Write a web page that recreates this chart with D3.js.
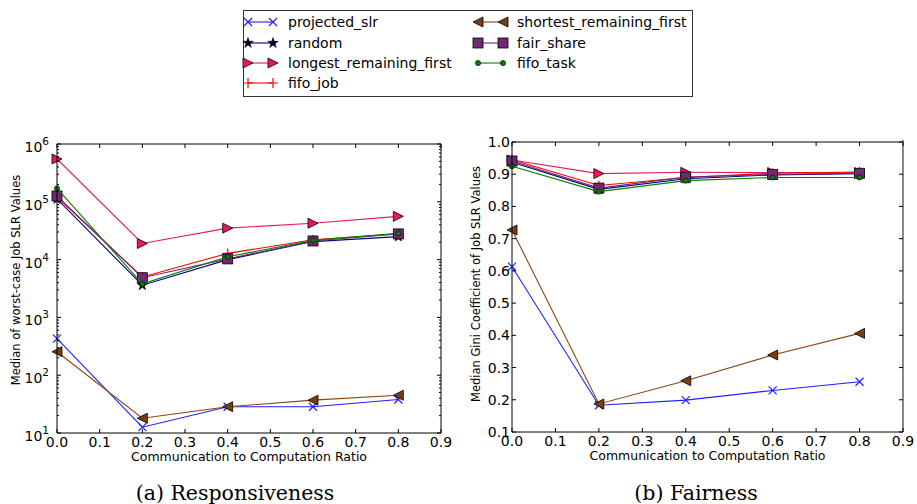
<!DOCTYPE html>
<html>
<head>
<meta charset="utf-8">
<script src="https://cdn.jsdelivr.net/npm/d3@7"></script>
<style>
  body { margin: 0; background: #fff; }
  svg { display: block; font-family: "DejaVu Sans", sans-serif; }
</style>
</head>
<body>
<svg id="chart" width="917" height="504"></svg>
<script>
// x positions shared by both panels
const ratios = [0, 0.2, 0.4, 0.6, 0.8];
const xTicks = [0, 0.1, 0.2, 0.3, 0.4, 0.5, 0.6, 0.7, 0.8, 0.9];
const gTicks = [0.1, 0.2, 0.3, 0.4, 0.5, 0.6, 0.7, 0.8, 0.9, 1.0];
const logTicks = [1, 2, 3, 4, 5, 6];

const seriesNames = ["projected_slr", "random", "longest_remaining_first", "fifo_job",
    "shortest_remaining_first", "fair_share", "fifo_task"];

// (a) Responsiveness: median worst-case job SLR
const respProjected = [430, 12.6, 28.5, 28.5, 38];
const respRandom = [112000, 3600, 10000, 20500, 25000];
const respLongest = [550000, 19000, 35000, 42500, 56000];
const respFifoJob = [120000, 5000, 12800, 22000, 28000];
const respShortest = [255, 18, 28.5, 37, 45];
const respFairShare = [126000, 4860, 10300, 21000, 27800];
const respFifoTask = [170000, 3800, 11200, 21500, 28500];

// (b) Fairness: median Gini coefficient
const fairProjected = [0.613, 0.183, 0.199, 0.229, 0.256];
const fairRandom = [0.937, 0.853, 0.886, 0.898, 0.902];
const fairLongest = [0.944, 0.902, 0.906, 0.905, 0.905];
const fairFifoJob = [0.945, 0.865, 0.89, 0.903, 0.907];
const fairShortest = [0.727, 0.187, 0.259, 0.339, 0.406];
const fairFairShare = [0.941, 0.857, 0.891, 0.899, 0.903];
const fairFifoTask = [0.925, 0.846, 0.88, 0.89, 0.89];

const respValues = [respProjected, respRandom, respLongest, respFifoJob, respShortest, respFairShare, respFifoTask];
const fairValues = [fairProjected, fairRandom, fairLongest, fairFifoJob, fairShortest, fairFairShare, fairFifoTask];

// style per series: line colour, marker kind, marker fill
const styles = {
    projected_slr: { color: "#1f1fff", marker: "x", fill: "none" },
    random: { color: "#000080", marker: "star", fill: "#000033" },
    longest_remaining_first: { color: "#e8195a", marker: "tri-right", fill: "#e8195a" },
    fifo_job: { color: "#ff0000", marker: "plus", fill: "none" },
    shortest_remaining_first: { color: "#8b4513", marker: "tri-left", fill: "#7a3d12" },
    fair_share: { color: "#702a75", marker: "square", fill: "#702a75" },
    fifo_task: { color: "#008000", marker: "circle", fill: "#008000" }
};

const svg = d3.select("#chart");

function drawMarker(g, kind, x, y, color, fill) {
    if (kind === "x") {
        const s = 4;
        g.append("path")
            .attr("d", `M${x - s},${y - s}L${x + s},${y + s}M${x - s},${y + s}L${x + s},${y - s}`)
            .attr("stroke", color).attr("stroke-width", 1.2).attr("fill", "none");
    } else if (kind === "plus") {
        const s = 5;
        g.append("path")
            .attr("d", `M${x - s},${y}L${x + s},${y}M${x},${y - s}L${x},${y + s}`)
            .attr("stroke", color).attr("stroke-width", 1.2).attr("fill", "none");
    } else if (kind === "star") {
        g.append("path")
            .attr("d", d3.symbol().type(d3.symbolStar).size(34)())
            .attr("transform", `translate(${x},${y})`)
            .attr("fill", fill).attr("stroke", "#000").attr("stroke-width", 0.6);
    } else if (kind === "tri-right") {
        const s = 5;
        g.append("path")
            .attr("d", `M${x + s},${y}L${x - s},${y - s}L${x - s},${y + s}Z`)
            .attr("fill", fill).attr("stroke", "#000").attr("stroke-width", 0.8);
    } else if (kind === "tri-left") {
        const s = 5;
        g.append("path")
            .attr("d", `M${x - s},${y}L${x + s},${y - s}L${x + s},${y + s}Z`)
            .attr("fill", fill).attr("stroke", "#000").attr("stroke-width", 0.8);
    } else if (kind === "square") {
        const s = 5;
        g.append("rect")
            .attr("x", x - s).attr("y", y - s).attr("width", 2 * s).attr("height", 2 * s)
            .attr("fill", fill).attr("stroke", "#000").attr("stroke-width", 0.8);
    } else if (kind === "circle") {
        g.append("circle")
            .attr("cx", x).attr("cy", y).attr("r", 2.6)
            .attr("fill", fill).attr("stroke", "#000").attr("stroke-width", 0.6);
    }
}

function drawPanel(opts) {
    const { left, right, top, bottom, yScale, values, yTickVals, yTickFormat, minorTicks, ylabel, ylabelX, ylabelY, caption, captionX, rightSpineGray } = opts;
    const xScale = d3.scaleLinear().domain([0, 0.9]).range([left, right]);
    const g = svg.append("g");

    // series lines and markers
    seriesNames.forEach((name, i) => {
        const st = styles[name];
        const pts = ratios.map((r, j) => [xScale(r), yScale(values[i][j])]);
        g.append("path")
            .attr("d", d3.line()(pts))
            .attr("fill", "none")
            .attr("stroke", st.color)
            .attr("stroke-width", 1.1);
        pts.forEach(p => drawMarker(g, st.marker, p[0], p[1], st.color, st.fill));
    });

    // frame
    g.append("line").attr("x1", left).attr("x2", right).attr("y1", top).attr("y2", top).attr("stroke", "#000");
    g.append("line").attr("x1", left).attr("x2", right).attr("y1", bottom).attr("y2", bottom).attr("stroke", "#000");
    g.append("line").attr("x1", left).attr("x2", left).attr("y1", top).attr("y2", bottom).attr("stroke", "#000");
    g.append("line").attr("x1", right).attr("x2", right).attr("y1", rightSpineGray ? top - 2 : top).attr("y2", bottom)
        .attr("stroke", rightSpineGray ? "#888" : "#000").attr("stroke-width", rightSpineGray ? 2 : 1);

    // x ticks (inside, top and bottom)
    xTicks.forEach(t => {
        const x = xScale(t);
        g.append("line").attr("x1", x).attr("x2", x).attr("y1", bottom).attr("y2", bottom - 4).attr("stroke", "#000");
        g.append("line").attr("x1", x).attr("x2", x).attr("y1", top).attr("y2", top + 4).attr("stroke", "#000");
        g.append("text")
            .attr("x", x).attr("y", bottom + 14)
            .attr("text-anchor", "middle")
            .attr("font-size", "14px")
            .text(t.toFixed(1));
    });

    // y ticks (inside, left and right)
    yTickVals.forEach(t => {
        const y = yScale(t);
        g.append("line").attr("x1", left).attr("x2", left + 4).attr("y1", y).attr("y2", y).attr("stroke", "#000");
        g.append("line").attr("x1", right).attr("x2", right - 4).attr("y1", y).attr("y2", y).attr("stroke", "#000");
        yTickFormat(g, t, left, y);
    });
    (minorTicks || []).forEach(t => {
        const y = yScale(t);
        g.append("line").attr("x1", left).attr("x2", left + 2).attr("y1", y).attr("y2", y).attr("stroke", "#000");
        g.append("line").attr("x1", right).attr("x2", right - 2).attr("y1", y).attr("y2", y).attr("stroke", "#000");
    });

    // axis labels
    g.append("text")
        .attr("x", (xScale(0) + xScale(0.9)) / 2)
        .attr("y", bottom + 28)
        .attr("text-anchor", "middle")
        .attr("font-size", "12.5px")
        .text("Communication to Computation Ratio");
    g.append("text")
        .attr("transform", `translate(${ylabelX},${ylabelY}) rotate(-90)`)
        .attr("text-anchor", "middle")
        .attr("font-size", "11.5px")
        .text(ylabel);

    // sub-caption
    g.append("text")
        .attr("x", captionX).attr("y", 500)
        .attr("text-anchor", "middle")
        .attr("font-family", "'DejaVu Serif', serif")
        .attr("font-size", "20.5px")
        .text(caption);
}

// (a) log-scale panel
const yLog = d3.scaleLog().domain([10, 1e6]).range([433, 144]);
const minorLog = [];
logTicks.slice(0, -1).forEach(e => {
    for (let m = 2; m <= 9; m++) minorLog.push(m * Math.pow(10, e));
});
drawPanel({
    left: 57, right: 441, top: 144, bottom: 433,
    yScale: yLog,
    values: respValues,
    yTickVals: logTicks.map(e => Math.pow(10, e)),
    minorTicks: minorLog,
    yTickFormat: (g, t, left, y) => {
        const e = Math.round(Math.log10(t));
        const txt = g.append("text")
            .attr("x", left - 8).attr("y", y + 8)
            .attr("text-anchor", "end")
            .attr("font-size", "14px");
        txt.append("tspan").text("10");
        txt.append("tspan").attr("dy", -7).attr("font-size", "10.5px").text(e);
    },
    ylabel: "Median of worst-case Job SLR Values",
    ylabelX: 20,
    ylabelY: 280,
    caption: "(a) Responsiveness",
    captionX: 235,
    rightSpineGray: false
});

// (b) linear panel
const yLin = d3.scaleLinear().domain([0.1, 1.0]).range([432, 142]);
drawPanel({
    left: 512, right: 903, top: 142, bottom: 432,
    yScale: yLin,
    values: fairValues,
    yTickVals: gTicks,
    minorTicks: [],
    yTickFormat: (g, t, left, y) => {
        g.append("text")
            .attr("x", left - 2).attr("y", y + 5)
            .attr("text-anchor", "end")
            .attr("font-size", "14px")
            .text(t.toFixed(1));
    },
    ylabel: "Median Gini Coefficient of Job SLR Values",
    ylabelX: 480,
    ylabelY: 284,
    caption: "(b) Fairness",
    captionX: 696,
    rightSpineGray: true
});

// legend
const legend = svg.append("g");
legend.append("rect")
    .attr("x", 243.5).attr("y", 10.5).attr("width", 449).attr("height", 86)
    .attr("fill", "#fff").attr("stroke", "#333").attr("stroke-width", 1);
const legendCols = [
    { x0: 248, tx: 288, names: seriesNames.slice(0, 4) },
    { x0: 478, tx: 517, names: seriesNames.slice(4) }
];
const rowY = [22, 43, 63, 83];
legendCols.forEach(col => {
    col.names.forEach((name, i) => {
        const st = styles[name];
        const y = rowY[i];
        legend.append("line")
            .attr("x1", col.x0).attr("x2", col.x0 + 25)
            .attr("y1", y).attr("y2", y)
            .attr("stroke", st.color).attr("stroke-width", 1.1);
        drawMarker(legend, st.marker, col.x0, y, st.color, st.fill);
        drawMarker(legend, st.marker, col.x0 + 25, y, st.color, st.fill);
        legend.append("text")
            .attr("x", col.tx).attr("y", y + 5)
            .attr("font-size", "14px")
            .text(name);
    });
});
</script>
</body>
</html>
